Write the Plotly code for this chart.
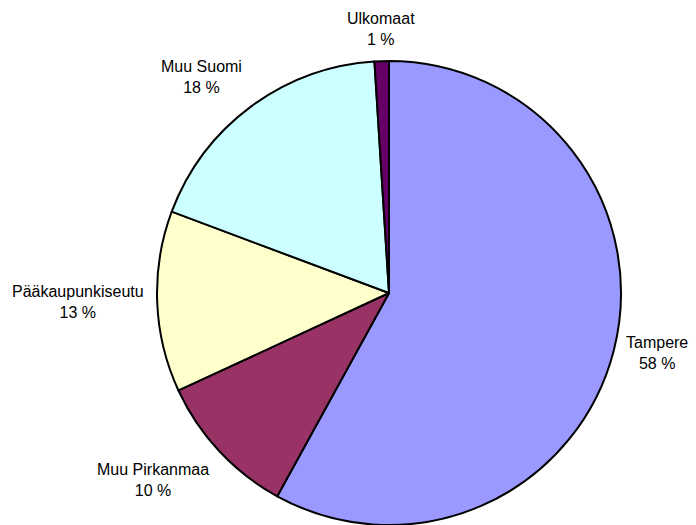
import math
import plotly.graph_objects as go

# Slices in clockwise order from 12 o'clock
labels = ["Tampere", "Muu Pirkanmaa", "Pääkaupunkiseutu", "Muu Suomi", "Ulkomaat"]
values = [58.0, 10.1, 12.6, 18.3, 1.0]
colors = ["#9999FF", "#993366", "#FFFFCC", "#CCFFFF", "#660066"]

total = sum(values)
text = [f"{lab}<br>{round(v / total * 100)} %" for lab, v in zip(labels, values)]

fig = go.Figure()
fig.add_trace(go.Pie(
    labels=labels,
    values=values,
    textinfo="none",
    sort=False,
    direction="clockwise",
    rotation=0,
    marker=dict(colors=colors, line=dict(color="black", width=2)),
    hoverinfo="label+percent",
))

# Labels placed just outside the pie along each slice's bisector
# (pie fills the plot area: centre at 0.5/0.5, radius 0.5 in paper units)
label_r = 0.5 * 1.048
cum = 0.0
for v, t in zip(values, text):
    mid = (cum + v / 2) / total * 2 * math.pi
    cum += v
    s, c = math.sin(mid), math.cos(mid)
    xa = "left" if s > 0.3 else ("right" if s < -0.3 else "center")
    ya = "bottom" if c > 0.3 else ("top" if c < -0.3 else "middle")
    fig.add_annotation(
        x=0.5 + label_r * s, y=0.5 + label_r * c,
        xref="paper", yref="paper",
        text=t, showarrow=False,
        xanchor=xa, yanchor=ya, align="center",
        font=dict(family="Liberation Sans, Arial, sans-serif", size=16, color="black"),
    )

fig.update_layout(
    width=696,
    height=525,
    showlegend=False,
    paper_bgcolor="white",
    plot_bgcolor="white",
    margin=dict(l=157, r=75, t=61, b=0),
)

# drop the browser's default body margin so the figure sits at the page corner
fig.write_html(
    "out.html",
    config={"displayModeBar": False},
    post_script="document.body.style.margin='0';",
)
